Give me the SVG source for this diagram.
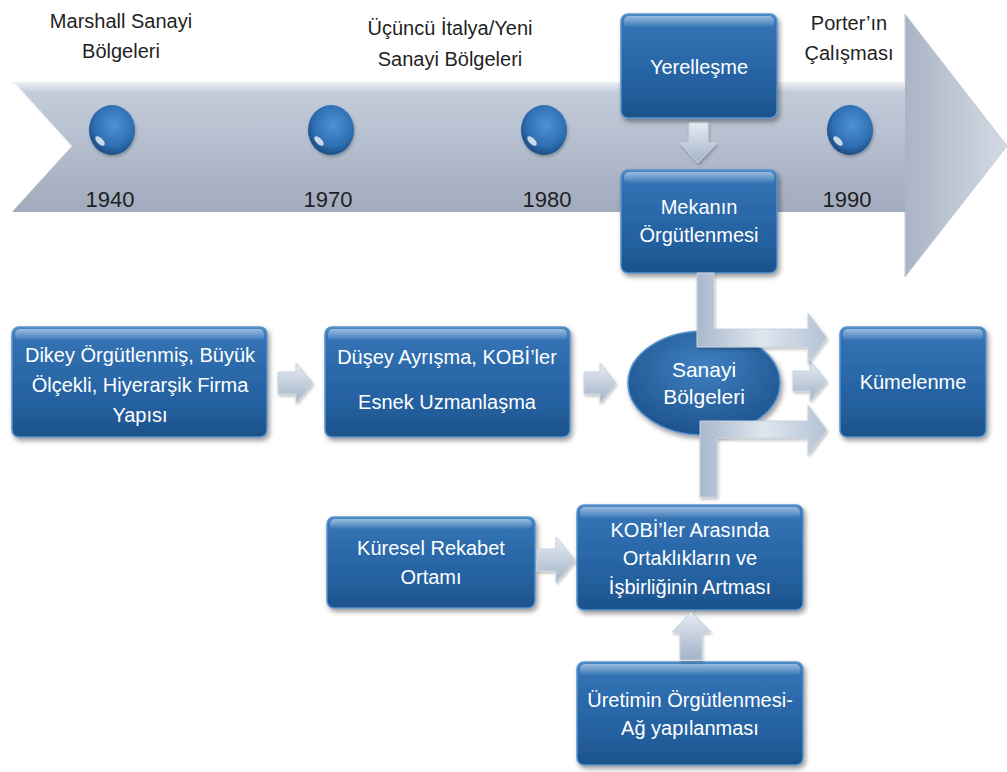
<svg xmlns="http://www.w3.org/2000/svg" width="1007" height="772" viewBox="0 0 1007 772">
  <defs>
    <!-- timeline band -->
    <linearGradient id="bandGrad" x1="0" y1="0" x2="0" y2="1">
      <stop offset="0" stop-color="#eef1f6"/>
      <stop offset="0.08" stop-color="#c3ccda"/>
      <stop offset="0.5" stop-color="#b3bdcd"/>
      <stop offset="1" stop-color="#a1abbd"/>
    </linearGradient>
    <linearGradient id="headGrad" x1="0" y1="0" x2="1" y2="0">
      <stop offset="0" stop-color="#aab4c5"/>
      <stop offset="1" stop-color="#d3dae4"/>
    </linearGradient>
    <!-- node fill -->
    <linearGradient id="boxGrad" x1="0" y1="0" x2="0" y2="1">
      <stop offset="0" stop-color="#4a88c8"/>
      <stop offset="0.12" stop-color="#3272b4"/>
      <stop offset="0.7" stop-color="#24609f"/>
      <stop offset="1" stop-color="#1c528a"/>
    </linearGradient>
    <linearGradient id="gloss" x1="0" y1="0" x2="0" y2="1">
      <stop offset="0" stop-color="#ffffff" stop-opacity="0.45"/>
      <stop offset="1" stop-color="#ffffff" stop-opacity="0"/>
    </linearGradient>
    <radialGradient id="ballGrad" cx="0.55" cy="0.4" r="0.6">
      <stop offset="0" stop-color="#4f92d6"/>
      <stop offset="0.7" stop-color="#2f6fb3"/>
      <stop offset="1" stop-color="#1d4e86"/>
    </radialGradient>
    <radialGradient id="ellGrad" cx="0.5" cy="0.35" r="0.65">
      <stop offset="0" stop-color="#3f80c2"/>
      <stop offset="1" stop-color="#1d538d"/>
    </radialGradient>
    <!-- connector fill -->
    <linearGradient id="connV" x1="0" y1="0" x2="0" y2="1">
      <stop offset="0" stop-color="#e6ebf3"/>
      <stop offset="1" stop-color="#a3b3c8"/>
    </linearGradient>
    <linearGradient id="connH" x1="0" y1="0" x2="1" y2="0">
      <stop offset="0" stop-color="#a9b8cc"/>
      <stop offset="0.5" stop-color="#dfe6ef"/>
      <stop offset="1" stop-color="#b4c2d4"/>
    </linearGradient>
    <filter id="shadow" x="-10%" y="-10%" width="125%" height="135%">
      <feDropShadow dx="2" dy="3" stdDeviation="2.5" flood-color="#000" flood-opacity="0.4"/>
    </filter>
    <filter id="soft" x="-20%" y="-20%" width="140%" height="140%">
      <feDropShadow dx="1" dy="2" stdDeviation="1.5" flood-color="#000" flood-opacity="0.25"/>
    </filter>
    <style>
      .lbl { font-family: "Liberation Sans", Arial, sans-serif; font-size: 20px; fill: #1f1f1f; text-anchor: middle; }
      .yr { font-family: "Liberation Sans", Arial, sans-serif; font-size: 22px; fill: #1f1f1f; text-anchor: middle; }
      .wt { font-family: "Liberation Sans", Arial, sans-serif; font-size: 20px; fill: #ffffff; text-anchor: middle; }
      .wt-big { font-size: 21px; }
      .box { fill: url(#boxGrad); stroke: #5a93cc; stroke-width: 1.5; filter: url(#shadow); }
      .shine { fill: url(#gloss); }
      .ball { fill: url(#ballGrad); filter: url(#soft); }
      .glint { fill: #ffffff; opacity: 0.75; }
      .conn { stroke: #c9d3e0; stroke-width: 1; filter: url(#soft); }
    </style>
  </defs>

  <rect width="1007" height="772" fill="#ffffff"/>

  <!-- timeline arrow -->
  <g id="timeline">
    <path d="M12,82 L905,82 L905,212 L12,212 L71,147 Z" fill="url(#bandGrad)"/>
    <path d="M905,14 L1007,146 L905,277 Z" fill="url(#headGrad)"/>
    <path d="M905,82 L905,14 L1007,146 L905,277 L905,212" fill="none" stroke="#c5cdd9" stroke-width="1"/>
    <path d="M14,84 L71,147" stroke="#ffffff" stroke-width="3" fill="none" opacity="0.8"/>

    <g id="m1940">
      <ellipse class="ball" cx="112" cy="130" rx="23" ry="25"/>
      <ellipse class="glint" cx="100" cy="141" rx="6" ry="3" transform="rotate(45 100 141)"/>
      <text class="yr" x="110" y="207">1940</text>
      <text class="lbl" x="121" y="28">Marshall Sanayi</text>
      <text class="lbl" x="121" y="58">Bölgeleri</text>
    </g>
    <g id="m1970">
      <ellipse class="ball" cx="331" cy="130" rx="23" ry="25"/>
      <ellipse class="glint" cx="319" cy="141" rx="6" ry="3" transform="rotate(45 319 141)"/>
      <text class="yr" x="328" y="207">1970</text>
      <text class="lbl" x="450" y="35">Üçüncü İtalya/Yeni</text>
      <text class="lbl" x="450" y="66">Sanayi Bölgeleri</text>
    </g>
    <g id="m1980">
      <ellipse class="ball" cx="544" cy="130" rx="23" ry="25"/>
      <ellipse class="glint" cx="532" cy="141" rx="6" ry="3" transform="rotate(45 532 141)"/>
      <text class="yr" x="547" y="207">1980</text>
    </g>
    <g id="m1990">
      <ellipse class="ball" cx="850" cy="130" rx="23" ry="25"/>
      <ellipse class="glint" cx="838" cy="141" rx="6" ry="3" transform="rotate(45 838 141)"/>
      <text class="yr" x="847" y="207">1990</text>
      <text class="lbl" x="849" y="30">Porter’ın</text>
      <text class="lbl" x="849" y="60">Çalışması</text>
    </g>
  </g>

  <!-- nodes -->
  <g id="yerellesme">
    <rect class="box" x="621" y="14" width="156" height="104" rx="7"/>
    <rect class="shine" x="624" y="16" width="150" height="12" rx="5"/>
    <text class="wt" x="699" y="74">Yerelleşme</text>
  </g>
  <g id="mekan">
    <rect class="box" x="621" y="170" width="156" height="103" rx="7"/>
    <rect class="shine" x="624" y="172" width="150" height="12" rx="5"/>
    <text class="wt" x="699" y="214">Mekanın</text>
    <text class="wt" x="699" y="242">Örgütlenmesi</text>
  </g>
  <g id="dikey">
    <rect class="box" x="12" y="327" width="255" height="110" rx="7"/>
    <rect class="shine" x="15" y="329" width="249" height="12" rx="5"/>
    <text class="wt" x="140" y="362">Dikey Örgütlenmiş, Büyük</text>
    <text class="wt" x="140" y="392">Ölçekli, Hiyerarşik Firma</text>
    <text class="wt" x="140" y="422">Yapısı</text>
  </g>
  <g id="dusey">
    <rect class="box" x="325" y="327" width="245" height="110" rx="7"/>
    <rect class="shine" x="328" y="329" width="239" height="12" rx="5"/>
    <text class="wt" x="447" y="364">Düşey Ayrışma, KOBİ’ler</text>
    <text class="wt" x="447" y="409">Esnek Uzmanlaşma</text>
  </g>
  <g id="sanayi">
    <ellipse cx="704" cy="383" rx="76" ry="52" fill="url(#ellGrad)" stroke="#5a93cc" stroke-width="1.5" filter="url(#shadow)"/>
    <text class="wt wt-big" x="704" y="377">Sanayi</text>
    <text class="wt wt-big" x="704" y="404">Bölgeleri</text>
  </g>
  <g id="kumelenme">
    <rect class="box" x="840" y="327" width="146" height="110" rx="7"/>
    <rect class="shine" x="843" y="329" width="140" height="12" rx="5"/>
    <text class="wt" x="913" y="389">Kümelenme</text>
  </g>
  <g id="kuresel">
    <rect class="box" x="327" y="517" width="208" height="91" rx="7"/>
    <rect class="shine" x="330" y="519" width="202" height="11" rx="5"/>
    <text class="wt" x="431" y="555">Küresel Rekabet</text>
    <text class="wt" x="431" y="584">Ortamı</text>
  </g>
  <g id="kobi">
    <rect class="box" x="577" y="505" width="226" height="105" rx="7"/>
    <rect class="shine" x="580" y="507" width="220" height="12" rx="5"/>
    <text class="wt" x="690" y="537">KOBİ’ler Arasında</text>
    <text class="wt" x="690" y="565">Ortaklıkların ve</text>
    <text class="wt" x="690" y="594">İşbirliğinin Artması</text>
  </g>
  <g id="uretim">
    <rect class="box" x="577" y="662" width="226" height="103" rx="7"/>
    <rect class="shine" x="580" y="664" width="220" height="12" rx="5"/>
    <text class="wt" x="690" y="707">Üretimin Örgütlenmesi-</text>
    <text class="wt" x="690" y="735">Ağ yapılanması</text>
  </g>

  <!-- connectors -->
  <g id="connectors">
    <!-- Yerelleşme to Mekanın -->
    <path class="conn" fill="url(#connV)" d="M689,123 L708,123 L708,143 L717,143 L698,163 L680,143 L689,143 Z"/>
    <!-- Dikey to Düşey -->
    <path class="conn" fill="url(#connV)" d="M278,372 L296,372 L296,363 L313,383 L296,403 L296,394 L278,394 Z"/>
    <!-- Düşey to Sanayi -->
    <path class="conn" fill="url(#connV)" d="M584,372 L600,372 L600,363 L616,383 L600,403 L600,394 L584,394 Z"/>
    <!-- Sanayi to Kümelenme -->
    <path class="conn" fill="url(#connV)" d="M793,371 L810,371 L810,361 L827,381 L810,401 L810,391 L793,391 Z"/>
    <!-- Mekanın down and across to Kümelenme -->
    <path class="conn" fill="url(#connH)" d="M697,273 L714,273 L714,329 L808,329 L808,313 L827,338 L808,363 L808,347 L697,347 Z"/>
    <!-- KOBİ up and across to Kümelenme -->
    <path class="conn" fill="url(#connH)" d="M700,497 L717,497 L717,438 L808,438 L808,455 L827,430 L808,405 L808,421 L700,421 Z"/>
    <!-- Küresel to KOBİ -->
    <path class="conn" fill="url(#connV)" d="M537,549 L556,549 L556,537 L575,560 L556,583 L556,571 L537,571 Z"/>
    <!-- Üretim to KOBİ -->
    <path class="conn" fill="url(#connV)" d="M680,660 L702,660 L702,632 L711,632 L691,612 L672,632 L680,632 Z"/>
  </g>
</svg>
